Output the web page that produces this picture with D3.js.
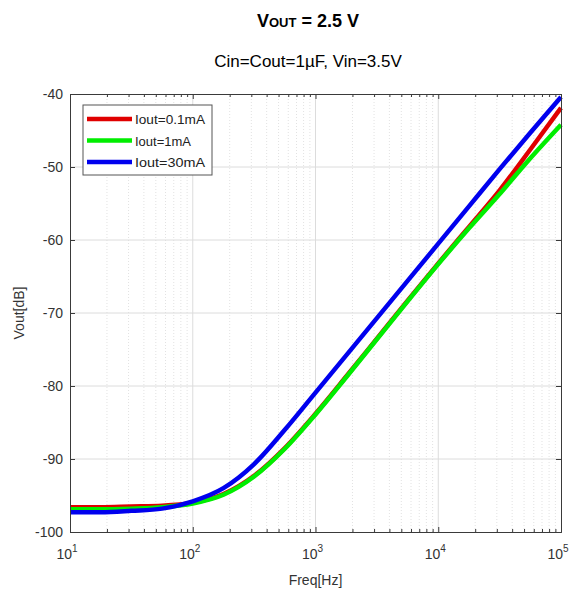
<!DOCTYPE html>
<html>
<head>
<meta charset="utf-8">
<script src="https://cdn.jsdelivr.net/npm/d3@7"></script>
<style>
  body { margin: 0; background: #fff; }
  text { font-family: "Liberation Sans", Arial, sans-serif; }
</style>
</head>
<body>
<div id="chart"></div>
<script>
// frequency points (Hz) as log10 exponent
const logFreq = [1, 1.25, 1.5, 1.75, 2, 2.25, 2.5, 2.75, 3, 3.25, 3.5, 3.75, 4, 4.25, 4.5, 4.75, 5];

// Vout [dB] per load current
const red_01mA = [-96.6, -96.6, -96.5, -96.4, -96.0, -94.8, -92.3, -88.5, -83.8, -78.7, -73.5, -68.3, -63.2, -58.2, -53.2, -47.6, -41.9];
const green_1mA = [-96.9, -96.9, -96.8, -96.6, -96.1, -94.9, -92.4, -88.6, -83.9, -78.8, -73.6, -68.4, -63.3, -58.4, -53.7, -48.8, -44.2];
const blue_30mA = [-97.3, -97.3, -97.1, -96.8, -95.8, -94.0, -90.7, -86.0, -80.9, -75.8, -70.7, -65.6, -60.5, -55.4, -50.3, -45.3, -40.4];

const seriesNames = ["Iout=0.1mA", "Iout=1mA", "Iout=30mA"];
const seriesColors = ["#e00000", "#00ee00", "#0000ee"];
const seriesValues = [red_01mA, green_1mA, blue_30mA];

const yTicks = [-100, -90, -80, -70, -60, -50, -40];
const xDecades = [1, 2, 3, 4, 5];

const width = 574, height = 594;
const margin = {left: 70, right: 13, top: 94, bottom: 62};

const svg = d3.select("#chart").append("svg")
    .attr("width", width).attr("height", height);

const x = d3.scaleLog().domain([10, 1e5]).range([margin.left, width - margin.right]);
const y = d3.scaleLinear().domain([-100, -40]).range([height - margin.bottom, margin.top]);

const x0 = margin.left, x1 = width - margin.right;
const y0 = height - margin.bottom, y1 = margin.top;

// minor grid (dotted)
const minorVals = [];
for (let d = 1; d < 5; d++) {
    for (let k = 2; k <= 9; k++) minorVals.push(k * Math.pow(10, d));
}
svg.append("g").selectAll("line").data(minorVals).enter().append("line")
    .attr("x1", d => x(d)).attr("x2", d => x(d))
    .attr("y1", y0).attr("y2", y1)
    .attr("stroke", "#e2e2e2").attr("stroke-width", 1)
    .attr("stroke-dasharray", "1,2");

// major grid
svg.append("g").selectAll("line").data(xDecades.slice(1, -1)).enter().append("line")
    .attr("x1", d => x(Math.pow(10, d))).attr("x2", d => x(Math.pow(10, d)))
    .attr("y1", y0).attr("y2", y1)
    .attr("stroke", "#dcdcdc").attr("stroke-width", 1);
svg.append("g").selectAll("line").data(yTicks.slice(1, -1)).enter().append("line")
    .attr("x1", x0).attr("x2", x1)
    .attr("y1", d => y(d)).attr("y2", d => y(d))
    .attr("stroke", "#dcdcdc").attr("stroke-width", 1);

// curves
const line = d3.line()
    .x((d, i) => x(Math.pow(10, logFreq[i])))
    .y(d => y(d))
    .curve(d3.curveMonotoneX);

svg.append("g").selectAll("path").data(seriesValues).enter().append("path")
    .attr("d", d => line(d))
    .attr("fill", "none")
    .attr("stroke", (d, i) => seriesColors[i])
    .attr("stroke-width", 4.5)
    .attr("stroke-linejoin", "round");

// axes with inward ticks on all four sides
const axisColor = "#3a3a3a";
const tickSize = 5, minorSize = 3;

const xAxisB = d3.axisBottom(x).tickValues(xDecades.map(d => Math.pow(10, d)))
    .tickSize(-tickSize).tickFormat("");
const xAxisT = d3.axisTop(x).tickValues(xDecades.map(d => Math.pow(10, d)))
    .tickSize(-tickSize).tickFormat("");
const yAxisL = d3.axisLeft(y).tickValues(yTicks).tickSize(-tickSize).tickFormat("");
const yAxisR = d3.axisRight(y).tickValues(yTicks).tickSize(-tickSize).tickFormat("");

function styleAxis(g) {
    g.selectAll("path, line").attr("stroke", axisColor);
}
svg.append("g").attr("transform", `translate(0,${y0})`).call(xAxisB).call(styleAxis);
svg.append("g").attr("transform", `translate(0,${y1})`).call(xAxisT).call(styleAxis);
svg.append("g").attr("transform", `translate(${x0},0)`).call(yAxisL).call(styleAxis);
svg.append("g").attr("transform", `translate(${x1},0)`).call(yAxisR).call(styleAxis);

// minor x ticks
svg.append("g").attr("transform", `translate(0,${y0})`)
    .call(d3.axisBottom(x).tickValues(minorVals).tickSize(-minorSize).tickFormat(""))
    .call(g => g.select(".domain").remove()).call(styleAxis);
svg.append("g").attr("transform", `translate(0,${y1})`)
    .call(d3.axisTop(x).tickValues(minorVals).tickSize(-minorSize).tickFormat(""))
    .call(g => g.select(".domain").remove()).call(styleAxis);

// tick labels
const labelColor = "#333";
svg.append("g").selectAll("text").data(yTicks).enter().append("text")
    .attr("x", x0 - 7).attr("y", d => y(d) + 5)
    .attr("text-anchor", "end")
    .attr("font-size", 14).attr("fill", labelColor)
    .text(d => d);

const xl = svg.append("g").selectAll("text").data(xDecades).enter().append("text")
    .attr("x", d => x(Math.pow(10, d)) - 3).attr("y", y0 + 27)
    .attr("text-anchor", "middle")
    .attr("font-size", 14).attr("fill", labelColor);
xl.append("tspan").text("10");
xl.append("tspan").attr("dy", -7).attr("font-size", 10).text(d => d);

// axis titles
svg.append("text")
    .attr("transform", `translate(24,${(y0 + y1) / 2}) rotate(-90)`)
    .attr("text-anchor", "middle")
    .attr("font-size", 14).attr("fill", labelColor)
    .text("Vout[dB]");
svg.append("text")
    .attr("x", (x0 + x1) / 2).attr("y", 585)
    .attr("text-anchor", "middle")
    .attr("font-size", 14).attr("fill", labelColor)
    .text("Freq[Hz]");

// title
const title = svg.append("text")
    .attr("x", 308).attr("y", 27)
    .attr("text-anchor", "middle")
    .attr("font-weight", "bold").attr("font-size", 18).attr("fill", "#000");
title.append("tspan").text("V");
title.append("tspan").attr("font-size", 13).text("OUT");
title.append("tspan").text(" = 2.5 V");

svg.append("text")
    .attr("x", 308).attr("y", 67)
    .attr("text-anchor", "middle")
    .attr("font-size", 17).attr("fill", "#000")
    .text("Cin=Cout=1\u00b5F, Vin=3.5V");

// legend
const legend = svg.append("g");
legend.append("rect")
    .attr("x", 83).attr("y", 105).attr("width", 129).attr("height", 70)
    .attr("fill", "#fff").attr("stroke", "#555").attr("stroke-width", 1);
const rows = legend.selectAll("g.row").data(seriesNames).enter().append("g")
    .attr("transform", (d, i) => `translate(0,${119 + i * 21.5})`);
rows.append("line")
    .attr("x1", 87).attr("x2", 132).attr("y1", 0).attr("y2", 0)
    .attr("stroke", (d, i) => seriesColors[i]).attr("stroke-width", 4.5);
rows.append("text")
    .attr("x", 135).attr("y", 5)
    .attr("font-size", 13).attr("fill", "#222")
    .attr("textLength", 70).attr("lengthAdjust", "spacingAndGlyphs")
    .text(d => d);
rows.select("text").filter((d, i) => i === 1).attr("textLength", 56);
</script>
</body>
</html>
